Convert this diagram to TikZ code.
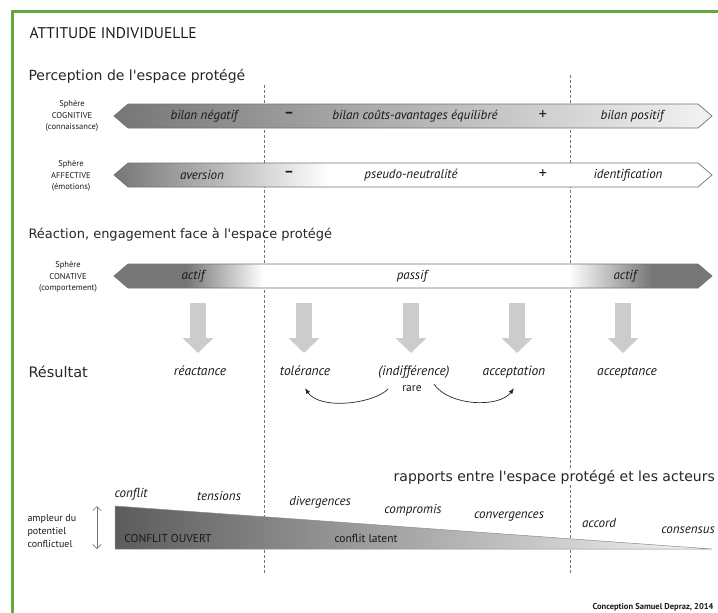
\documentclass[tikz,border=0pt]{standalone}
\usepackage{fontspec}
\setmainfont{PT Sans}
\newfontfamily\headfont{DejaVu Sans}
\usetikzlibrary{positioning, arrows.meta}

\definecolor{framegreen}{RGB}{98,170,62}
\definecolor{bargray}{RGB}{118,118,118}

% horizontal fills of the three sphere bars (25bp..75bp = bar width)
\pgfdeclarehorizontalshading{cogshade}{100bp}{color(0bp)=(bargray); color(25bp)=(bargray);
  color(75bp)=(white!95!black); color(100bp)=(white!95!black)}
\pgfdeclarehorizontalshading{affshade}{100bp}{color(0bp)=(bargray); color(25bp)=(bargray);
  color(43bp)=(white); color(100bp)=(white)}
\pgfdeclarehorizontalshading{conshade}{100bp}{color(0bp)=(bargray); color(31bp)=(bargray);
  color(37.5bp)=(white); color(63bp)=(white); color(70bp)=(bargray); color(100bp)=(bargray)}

\begin{document}
\begin{tikzpicture}[
  x=1pt, y=-1pt,
  head/.style={anchor=west, font=\headfont\fontsize{14}{16}\selectfont, text=black!85},
  sphere/.style={align=center, font=\fontsize{8.5}{11.5}\selectfont, text=black!90},
  bartxt/.style={font=\fontsize{13}{15}\selectfont\itshape, text=black!90},
  sign/.style={font=\fontsize{16}{17}\selectfont, text=black!90},
  result/.style={font=\fontsize{13.5}{15}\selectfont\itshape, text=black!90,
    text height=9pt, text depth=3pt, inner sep=0pt},
  level/.style={font=\fontsize{13}{15}\selectfont\itshape, text=black!90},
  barline/.style={draw=black!55, line width=0.7pt},
  sepline/.style={draw=black!55, densely dashed, line width=0.5pt},
  bigarr/.style={draw=black!20, line width=16pt, -{Triangle[width=30pt, length=15pt]}},
  curvearr/.style={-{Latex[length=2mm]}, line width=0.7pt, black!85},
  ampl/.style={{Straight Barb[length=1.5mm]}-{Straight Barb[length=1.5mm]}, draw=black!55, line width=0.6pt}
]
\useasboundingbox (0,0) rectangle (718,613);

% frame
\draw[framegreen, line width=3pt] (12,613) -- (12,11) -- (718,11);

% separators
\draw[sepline] (264,85) -- (264,573);
\draw[sepline] (570,75) -- (570,573);

% sphere bars
\foreach \yy/\sh in {116/cogshade, 175/affshade, 276/conshade}
  \path[barline, shade, shading=\sh] (114,\yy) -- (128,\yy-12) -- (698,\yy-12)
    -- (712,\yy) -- (698,\yy+12) -- (128,\yy+12) -- cycle;

% conflict triangle
\coordinate (tritop) at (115,506);
\coordinate (tritip) at (712,549);
\coordinate (tribot) at (115,549);
\path[draw=black!45, line width=0.5pt, left color=black!64, right color=black!4]
  (tritop) -- (tritip) -- (tribot) -- cycle;

% headings
\node[anchor=west, font=\fontsize{15.5}{17}\selectfont, text=black!90] (title) at (26,33) {ATTITUDE INDIVIDUELLE};
\node[head] (perc) at (25,76) {Perception de l'espace protégé};
\node[head, font=\headfont\fontsize{13}{15}\selectfont] (react) at (25,235) {Réaction, engagement face à l'espace protégé};
\node[head, font=\headfont\fontsize{14.5}{16}\selectfont] (res) at (25,372) {Résultat};
\node[head, anchor=east, fill=white, inner sep=1pt] (rapp) at (716,477)
  {rapports entre l'espace protégé et les acteurs};

% sphere labels
\node[sphere] (cogl) at (72,116) {Sphère\\COGNITIVE\\(connaissance)};
\node[sphere] (affl) at (71,176) {Sphère\\AFFECTIVE\\(émotions)};
\node[sphere] (conl) at (68,277) {Sphère\\CONATIVE\\(comportement)};

% texts in the bars
\node[bartxt] (cogneg) at (204,116) {bilan négatif};
\node[sign, font=\bfseries\fontsize{15}{16}\selectfont] (cogmin) at (289,115) {--};
\node[bartxt] (cogbal) at (415,116) {bilan coûts-avantages équilibré};
\node[sign] (cogplus) at (543,115) {+};
\node[bartxt] (cogpos) at (632,116) {bilan positif};

\node[bartxt] (affneg) at (202,175) {aversion};
\node[sign, font=\bfseries\fontsize{15}{16}\selectfont] (affmin) at (289,174) {--};
\node[bartxt] (affneu) at (411,175) {pseudo-neutralité};
\node[sign] (affplus) at (543,174) {+};
\node[bartxt] (affpos) at (628,175) {identification};

\node[bartxt] (actl) at (193,276) {actif};
\node[bartxt] (pass) at (412,276) {passif};
\node[bartxt] (actr) at (625,276) {actif};

% results
\node[result] (reac) at (200,372) {réactance};
\node[result] (tol) at (305,372) {tolérance};
\node[result] (indif) at (414,372) {(indifférence)};
\node[result] (accep) at (514,372) {acceptation};
\node[result] (accept) at (627,372) {acceptance};
\node[font=\fontsize{11.5}{12}\selectfont, text=black!90, inner sep=0pt] (rare) at (412,389) {rare};

\foreach \x in {198, 304, 411, 517, 623}
  \draw[bigarr, shorten <=15pt, shorten >=13pt] (\x,288) -- (\x,366);

\draw[curvearr] ([xshift=-14pt]rare.west) .. controls +(-15,15) and +(15,22) .. ([yshift=-10pt]tol.south);
\draw[curvearr] ([xshift=12pt,yshift=5pt]rare.east) .. controls +(15,22) and +(-15,20) .. ([yshift=-10pt]accep.south);

% levels along the triangle
\node[level] (confl) at (131,494) {conflit};
\node[level] (tens) at (219,496) {tensions};
\node[level] (diverg) at (320,502) {divergences};
\node[level] (compr) at (413,510) {compromis};
\node[level] (converg) at (509,517) {convergences};
\node[level] (accord) at (599,523) {accord};
\node[level] (cons) at (688,530) {consensus};
\node[font=\fontsize{11.5}{12}\selectfont, text=black!90] (ouvert) at (168,538) {CONFLIT OUVERT};
\node[font=\fontsize{11.5}{12}\selectfont, text=black!90] (latent) at (366,538) {conflit latent};

\node[anchor=west, align=left, font=\fontsize{10}{13}\selectfont, text=black!90] (ampl) at (24,531)
  {ampleur du\\potentiel\\conflictuel};
\draw[ampl] ([xshift=-18pt]tritop) -- ([xshift=-18pt]tribot);

\node[anchor=east, font=\bfseries\fontsize{8.5}{9}\selectfont, text=black!90] (credit) at (717,607)
  {Conception Samuel Depraz, 2014};
\end{tikzpicture}
\end{document}
